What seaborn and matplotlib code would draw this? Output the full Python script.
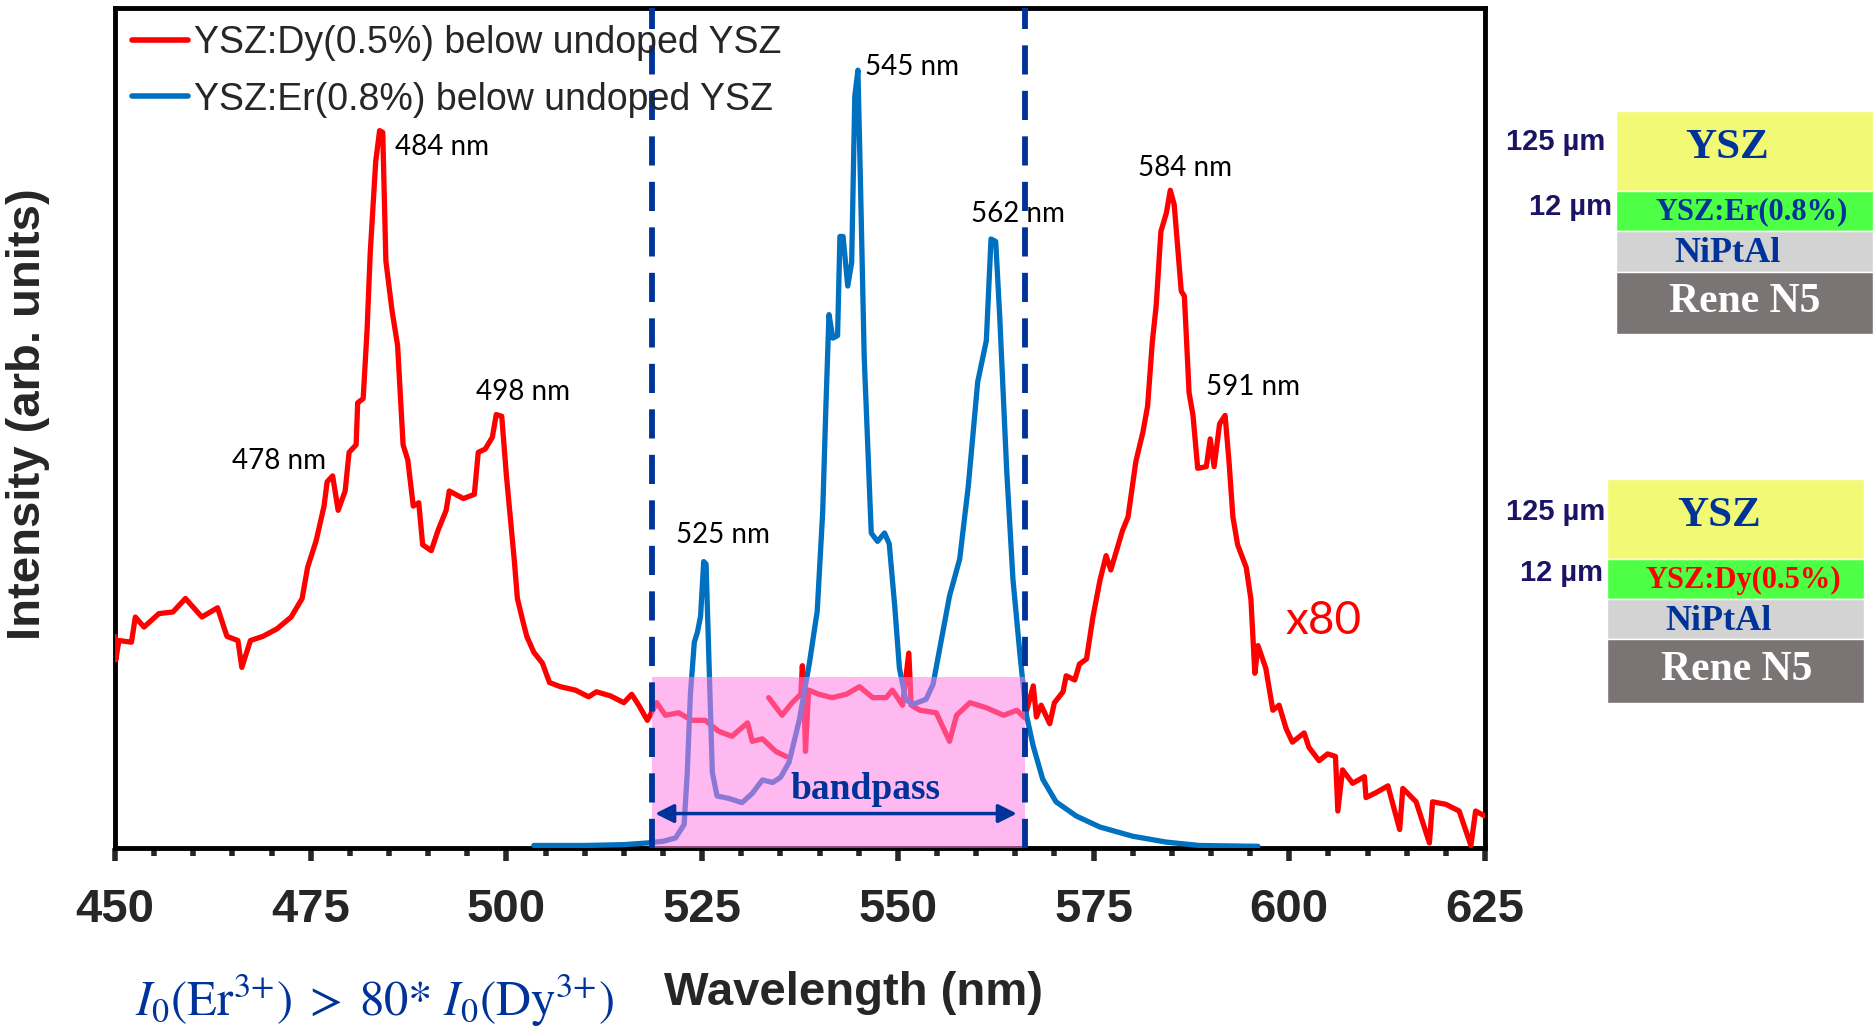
import numpy as np
import pandas as pd
import matplotlib
matplotlib.use("Agg")
import matplotlib.pyplot as plt
import seaborn as sns
from matplotlib.patches import Rectangle
from matplotlib.ticker import MultipleLocator

# ---------------- data ----------------
dy_seg1_nm = [450.0, 450.1, 450.5, 452.1, 452.6, 453.7, 455.6, 457.4, 459.0, 461.1, 463.1, 464.3,
              465.7, 466.2, 467.3, 468.9, 470.7, 472.5, 473.9, 474.6, 475.7, 476.7, 477.1, 477.8,
              478.5, 479.4, 479.9, 480.8, 481.0, 481.7, 482.2, 482.6, 483.3, 483.8, 484.2, 484.6,
              485.4, 486.1, 486.8, 487.4, 488.1, 488.8, 489.3, 490.4, 491.3, 492.3, 492.7, 494.5,
              495.9, 496.4, 497.3, 498.2, 498.7, 499.4, 500.0, 501.0, 501.4, 502.1, 502.6, 503.5,
              504.6, 505.5, 506.9, 508.8, 510.5, 511.5, 513.3, 515.0, 516.0, 516.9, 518.0, 519.2,
              520.3, 522.0, 523.7, 525.4, 527.1, 528.8, 530.8, 531.4, 532.7, 534.4, 535.7]
dy_seg1_int = [25.2, 22.4, 24.7, 24.5, 27.5, 26.3, 27.9, 28.1, 29.7, 27.5, 28.6, 25.2,
               24.7, 21.5, 24.7, 25.2, 26.1, 27.5, 29.7, 33.4, 36.6, 40.7, 43.6, 44.3,
               40.2, 42.5, 47.1, 48.0, 53.0, 53.5, 61.7, 70.8, 81.7, 85.4, 85.2, 69.9,
               63.9, 59.8, 48.0, 46.2, 40.7, 41.1, 36.1, 35.4, 37.9, 40.2, 42.5, 41.6,
               42.1, 47.1, 47.5, 48.9, 51.6, 51.4, 44.3, 34.3, 29.7, 27.0, 25.2, 23.3,
               22.0, 19.7, 19.2, 18.8, 18.0, 18.6, 18.1, 17.3, 18.3, 17.0, 15.2, 17.3,
               15.8, 16.1, 15.2, 15.2, 13.9, 13.3, 14.9, 12.7, 13.0, 11.5, 10.9]

dy_seg2_nm = [533.5, 535.2, 536.5, 537.6, 537.8, 538.0, 538.2, 538.6, 539.9, 541.6, 543.4, 545.1,
              546.8, 548.5, 549.3, 550.6, 551.4, 551.7, 552.8, 554.9, 556.6, 557.5, 559.2, 561.3,
              563.5, 565.2, 566.2, 567.3, 567.7, 568.3, 569.4, 570.0, 571.1, 571.5, 572.6, 573.2,
              574.1, 574.9, 575.8, 576.6, 577.2, 577.9, 578.7, 579.4, 580.4, 581.3, 581.9, 582.5,
              583.0, 583.6, 584.3, 584.8, 585.3, 586.2, 586.6, 587.2, 587.7, 588.3, 589.4, 589.9,
              590.4, 591.1, 591.8, 592.3, 592.8, 593.4, 594.5, 595.1, 595.6, 596.0, 597.0, 597.9,
              598.7, 599.6, 600.4, 601.9, 602.5, 603.8, 604.9, 605.9, 606.2, 606.8, 608.1, 609.6,
              609.8, 611.1, 612.6, 614.1, 614.5, 616.2, 617.9, 618.3, 620.0, 621.7, 623.2, 623.8,
              625.0]
dy_seg2_int = [17.9, 15.8, 17.3, 18.3, 21.7, 18.0, 11.5, 18.8, 18.3, 17.9, 18.3, 19.2,
               17.9, 17.9, 18.8, 17.0, 23.2, 17.0, 16.4, 16.1, 12.7, 15.8, 17.3, 16.7,
               15.8, 16.4, 15.5, 19.3, 15.6, 17.0, 14.8, 17.3, 18.6, 20.5, 20.0, 21.9,
               22.5, 27.4, 31.8, 34.8, 33.1, 35.3, 37.8, 39.4, 46.0, 49.5, 52.6, 60.2,
               64.6, 73.4, 75.6, 78.3, 76.6, 66.3, 65.7, 54.2, 51.5, 45.2, 45.4, 48.7,
               45.4, 50.5, 51.5, 46.0, 39.4, 36.1, 33.4, 29.6, 20.8, 24.1, 21.4, 16.4,
               17.0, 14.2, 12.6, 13.7, 12.0, 10.4, 11.2, 10.9, 4.4, 9.3, 7.7, 8.5,
               6.0, 6.6, 7.4, 2.2, 7.1, 5.5, 0.6, 5.5, 5.2, 4.4, 0.3, 4.4,
               3.8]

er_nm = [503.5, 510.0, 515.0, 518.0, 520.0, 521.6, 522.7, 523.1, 523.5, 524.0, 524.4, 524.8,
         525.2, 525.5, 525.9, 526.3, 526.9, 528.4, 530.1, 531.4, 532.7, 534.0, 535.0, 536.1,
         537.4, 538.7, 539.7, 540.4, 540.8, 541.2, 541.7, 542.3, 542.6, 543.0, 543.6, 544.1,
         544.5, 544.9, 545.2, 545.7, 546.6, 547.4, 548.3, 548.9, 549.6, 550.2, 551.0, 551.9,
         553.6, 554.5, 555.5, 556.6, 557.9, 559.0, 560.2, 561.3, 561.9, 562.5, 563.0, 563.9,
         564.7, 565.6, 566.4, 567.3, 568.5, 570.2, 572.8, 575.8, 580.0, 584.3, 588.5, 596.0]
er_int = [0.3, 0.3, 0.4, 0.6, 0.8, 1.2, 2.8, 9.0, 18.3, 24.5, 25.7, 27.6,
          34.1, 33.8, 21.4, 9.0, 6.2, 5.9, 5.4, 6.5, 8.1, 7.8, 8.4, 10.2,
          15.2, 22.0, 28.2, 40.0, 52.3, 63.5, 60.7, 61.0, 72.8, 72.8, 66.9, 69.7,
          89.5, 92.6, 80.2, 58.5, 37.5, 36.5, 37.5, 36.2, 28.8, 21.4, 17.7, 17.1,
          17.7, 19.5, 24.5, 30.0, 34.4, 43.1, 55.5, 60.4, 72.5, 72.2, 63.5, 45.0,
          32.0, 23.0, 15.9, 12.1, 8.2, 5.5, 3.8, 2.5, 1.4, 0.7, 0.3, 0.2]

series_labels = ["YSZ:Dy(0.5%) below undoped YSZ", "YSZ:Er(0.8%) below undoped YSZ"]
peak_labels = ["478 nm", "484 nm", "498 nm", "525 nm", "545 nm", "562 nm", "584 nm", "591 nm"]
peak_label_nm = [470.9, 485.8, 502.1, 527.6, 551.8, 565.4, 586.7, 595.4]
peak_label_int = [46.1, 83.5, 54.3, 37.3, 93.0, 75.5, 81.0, 54.9]
peak_label_ha = ["center", "left", "center", "center", "center", "center", "center", "center"]
band_lo, band_hi = 518.6, 566.2
band_top = 20.3

# ---------------- style ----------------
sns.set_style("white")
plt.rcParams["font.family"] = ["Liberation Sans", "DejaVu Sans"]
plt.rcParams["mathtext.fontset"] = "stix"

RED = "#FF0000"
BLUE = "#0070C0"
NAVY = "#003399"

fig = plt.figure(figsize=(18.75, 10.31), dpi=100)
W, H = 1875.0, 1031.0
ax = fig.add_axes([115 / W, 1 - 848 / H, 1370 / W, 840 / H])

df_dy1 = pd.DataFrame({"nm": dy_seg1_nm, "I": dy_seg1_int})
df_dy2 = pd.DataFrame({"nm": dy_seg2_nm, "I": dy_seg2_int})
df_er = pd.DataFrame({"nm": er_nm, "I": er_int})

LW = 3.8
sns.lineplot(data=df_dy1, x="nm", y="I", ax=ax, color=RED, lw=LW, estimator=None, sort=False,
             label=series_labels[0], zorder=3)
sns.lineplot(data=df_dy2, x="nm", y="I", ax=ax, color=RED, lw=LW, estimator=None, sort=False,
             label="_nolegend_", zorder=3)
sns.lineplot(data=df_er, x="nm", y="I", ax=ax, color=BLUE, lw=LW, estimator=None, sort=False,
             label=series_labels[1], zorder=3)

ax.set_xlim(450, 625)
ax.set_ylim(0, 100)

# bandpass region
ax.add_patch(Rectangle((band_lo, 0), band_hi - band_lo, band_top, facecolor="#FF80E6",
                       alpha=0.55, edgecolor="none", zorder=4))
for xv in (band_lo, band_hi):
    ax.axvline(xv, color=NAVY, lw=4.2, ls=(0, (5.0, 2.8)), zorder=5)
ax.annotate("", xy=(band_lo + 0.4, 4.1), xytext=(band_hi - 1.0, 4.1),
            arrowprops=dict(arrowstyle="<|-|>", color=NAVY, lw=2.5, mutation_scale=28,
                            shrinkA=0, shrinkB=0), zorder=6)
ax.text((band_lo + band_hi) / 2 + 3.5, 7.0, "bandpass", family="Liberation Serif",
        weight="bold", fontsize=27, color=NAVY, ha="center", va="center", zorder=6)

for lab, xv, yv, ha in zip(peak_labels, peak_label_nm, peak_label_int, peak_label_ha):
    ax.text(xv, yv, lab, family="Lato", fontsize=20, color="black", ha=ha, va="center", zorder=6)
ax.text(604.4, 27.0, "x80", family="Lato", fontsize=33, color=RED, ha="center", va="center")

# axes styling
for s in ax.spines.values():
    s.set_linewidth(3.5)
    s.set_color("black")
ax.xaxis.set_major_locator(MultipleLocator(25))
ax.xaxis.set_minor_locator(MultipleLocator(5))
ax.tick_params(axis="x", which="major", direction="out", length=9, width=4, pad=20,
               labelsize=34, bottom=True)
ax.tick_params(axis="x", which="minor", direction="out", length=6, width=4, bottom=True)
ax.set_yticks([])
for t in ax.get_xticklabels():
    t.set_fontweight("bold")

ax.set_xlabel("Wavelength (nm)", fontsize=34, fontweight="bold")
ax.set_ylabel("Intensity (arb. units)", fontsize=34, fontweight="bold")
ax.xaxis.set_label_coords((854 - 115) / 1370, (848 - 971) / 840)
ax.yaxis.set_label_coords((50 - 115) / 1370, (848 - 414) / 840)

ax.legend(loc="upper left", bbox_to_anchor=(0.0, 1.0), frameon=False, fontsize=27,
          handlelength=1.5, handletextpad=0.15, labelspacing=0.55, borderaxespad=0.25,
          borderpad=0.2)
for ln in ax.get_legend().get_lines():
    ln.set_linewidth(4)

# formula at bottom left
fig.text(135 / W, 1 - 1016 / H,
         r"$I_{\mathit{0}}(\mathrm{Er}^{3\text{+}})\;>\;80\text{*}\ I_{\mathit{0}}(\mathrm{Dy}^{3\text{+}})$",
         fontsize=35, color=NAVY, ha="left", va="baseline")

# layer stacks (figure pixel coordinates)
def fx(x):
    return x / W

def fy(y):
    return 1 - y / H

layer_colors = ["#F2F975", "#4DFF45", "#D3D3D3", "#7A7474"]

def stack(x0, x1, ys, texts, text_xy, text_colors, text_sizes, thick_xy):
    for i in range(4):
        fig.add_artist(Rectangle((fx(x0), fy(ys[i + 1])), fx(x1) - fx(x0), fy(ys[i]) - fy(ys[i + 1]),
                                 transform=fig.transFigure, facecolor=layer_colors[i],
                                 edgecolor="white", lw=1))
    for t, (x, y), c, s in zip(texts, text_xy, text_colors, text_sizes):
        fig.text(fx(x), fy(y), t, family="Liberation Serif", weight="bold", color=c,
                 fontsize=s, ha="center", va="center")
    for t, (x, y) in zip(["125 µm", "12 µm"], thick_xy):
        fig.text(fx(x), fy(y), t, weight="bold", color="#1B1464", fontsize=21,
                 ha="right", va="center")

stack(1616, 1873, [111, 190.7, 230.7, 271.7, 334.3],
      ["YSZ", "YSZ:Er(0.8%)", "NiPtAl", "Rene N5"],
      [(1726.7, 148), (1751.7, 212), (1727.3, 253), (1745, 302)],
      [NAVY, NAVY, NAVY, "white"], [31, 22, 26, 30],
      [(1605, 141.7), (1611.7, 206.7)])
stack(1607, 1864, [479, 559, 599, 639.3, 702.7],
      ["YSZ", "YSZ:Dy(0.5%)", "NiPtAl", "Rene N5"],
      [(1719.3, 516), (1743.3, 580), (1718.3, 621), (1736.7, 670)],
      [NAVY, RED, NAVY, "white"], [31, 22, 26, 30],
      [(1605, 511.7), (1603.3, 573.3)])

fig.savefig("out.png", dpi=100)
